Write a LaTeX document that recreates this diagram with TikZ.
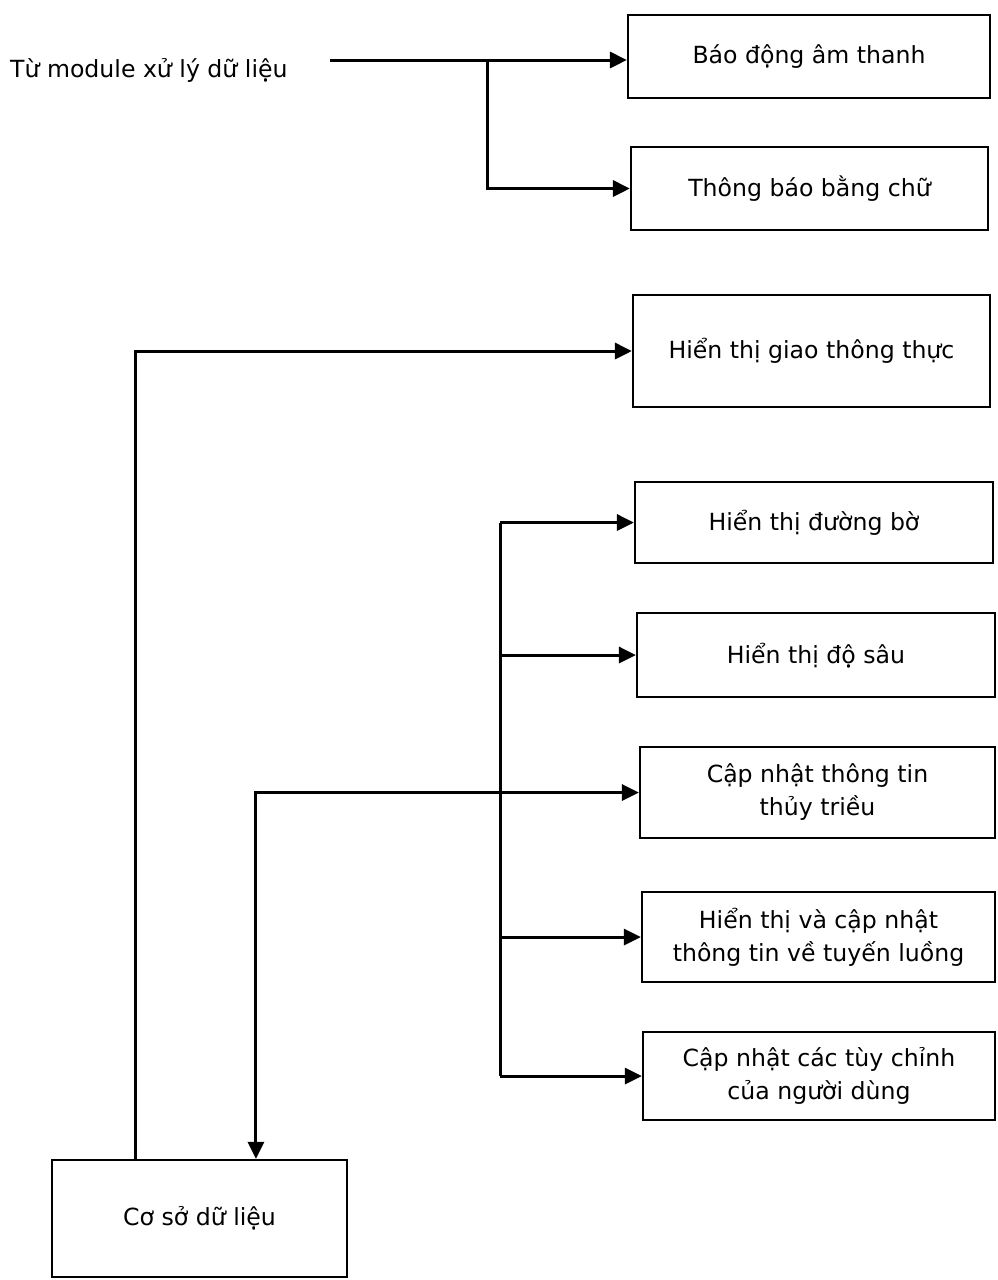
\documentclass[tikz,border=0pt]{standalone}
\usepackage{fontspec}
\setmainfont{DejaVu Sans}
\usetikzlibrary{arrows.meta}
\begin{document}
\begin{tikzpicture}[x=1pt,y=-1pt,
  box/.style={draw, line width=2.2pt, inner sep=0pt, align=center,
    font=\fontsize{23.6}{33}\selectfont},
  link/.style={line width=3pt},
  arr/.style={link, -{Triangle[length=17pt,width=16pt]}},
  lbl/.style={inner sep=0pt, anchor=west, font=\fontsize{23.6}{33}\selectfont}]
\useasboundingbox (0,0) rectangle (997,1280);

% output modules
\node[box, minimum width=362pt, minimum height=83pt] (b1) at (809,56.5) {Báo động âm thanh};
\node[box, minimum width=357pt, minimum height=83pt] (b2) at (809.5,188.5) {Thông báo bằng chữ};
\node[box, minimum width=357pt, minimum height=112pt] (b3) at (811.5,351) {Hiển thị giao thông thực};
\node[box, minimum width=358pt, minimum height=81pt] (b4) at (814,522.5) {Hiển thị đường bờ};
\node[box, minimum width=358pt, minimum height=84pt] (b5) at (816,655) {Hiển thị độ sâu};
\node[box, minimum width=355pt, minimum height=91pt] (b6) at (817.5,792.5) {Cập nhật thông tin\\thủy triều};
\node[box, minimum width=353pt, minimum height=90pt] (b7) at (818.5,937) {Hiển thị và cập nhật\\thông tin về tuyến luồng};
\node[box, minimum width=352pt, minimum height=88pt] (b8) at (819,1076) {Cập nhật các tùy chỉnh\\của người dùng};

% database
\node[box, minimum width=295pt, minimum height=117pt] (db) at (199.5,1218.5) {Cơ sở dữ liệu};

% input from the processing module
\node[lbl] (src) at (10,70) {Từ module xử lý dữ liệu};
\coordinate (s) at (330,60);
\coordinate (j1) at (487,60);
\draw[arr] (s) -- (s -| b1.west);
\draw[arr] (j1) |- (b2.west);

% database feeds the live traffic display
\draw[arr] ([xshift=85pt]db.north west) |- (b3.west);

% distribution bus
\coordinate (bx) at (500,0);
\draw[link] (bx |- b4.west) -- (bx |- b8.west);
\draw[arr] (bx |- b4.west) -- (b4.west);
\draw[arr] (bx |- b5.west) -- (b5.west);
\draw[arr] (bx |- b6.west) -- (b6.west);
\draw[arr] (bx |- b7.west) -- (b7.west);
\draw[arr] (bx |- b8.west) -- (b8.west);
\draw[arr] (bx |- b6.west) -| ([xshift=205pt]db.north west);
\end{tikzpicture}
\end{document}
